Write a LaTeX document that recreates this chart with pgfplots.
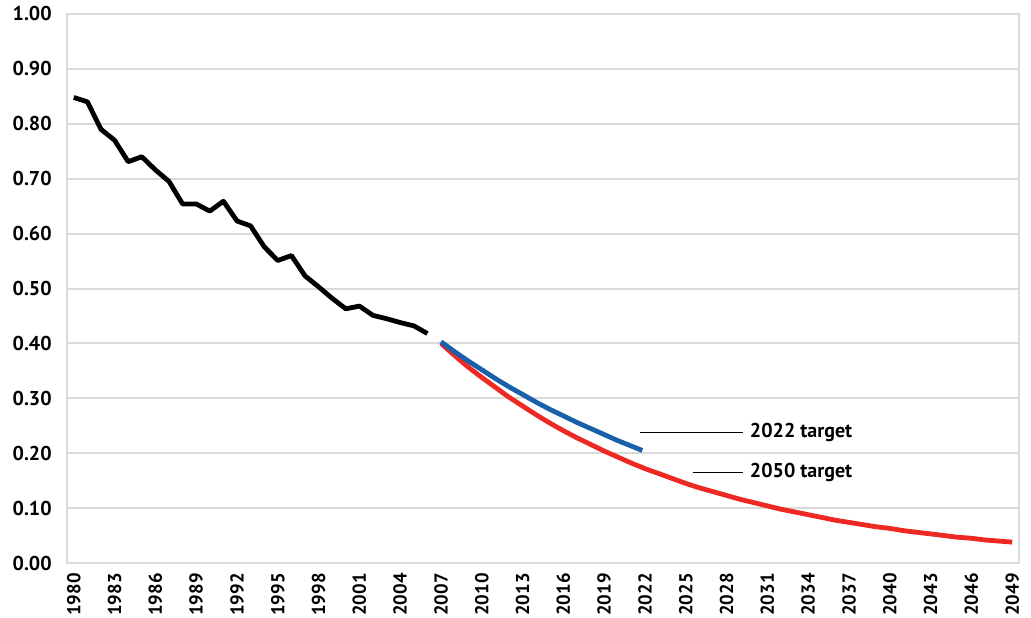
\documentclass[border=0pt]{standalone}
\usepackage{pgfplots}
\pgfplotsset{compat=1.18}
\usepackage{fontspec}
\setmainfont{PT Sans}
\definecolor{gridgray}{RGB}{218,218,218}
\definecolor{lineblue}{RGB}{25,95,170}
\definecolor{linered}{RGB}{238,40,35}
\begin{document}
\begin{tikzpicture}
\begin{axis}[
  scale only axis,
  width=714pt, height=411.75pt,
  xmin=1979.5, xmax=2049.5,
  ymin=0, ymax=1,
  xtick={1980,1983,...,2049},
  ytick={0,0.1,...,1.0},
  ymajorgrids,
  grid style={gridgray, line width=1.5pt},
  axis line style={gridgray, line width=1.5pt},
  major tick length=0pt,
  tick label style={font=\fontsize{15}{17}\selectfont\bfseries},
  /pgf/number format/assume math mode=true,
  xticklabel style={rotate=90, anchor=east, inner sep=1pt, font=\fontsize{14}{16}\selectfont\bfseries, /pgf/number format/1000 sep={}, xshift=-6.5pt},
  yticklabel style={/pgf/number format/fixed, /pgf/number format/precision=2, /pgf/number format/fixed zerofill, xshift=-8pt},
  clip=false,
]
\addplot[black, line width=3.6pt, line join=round] coordinates {
(1980,0.848) (1981,0.840) (1982,0.790) (1983,0.770) (1984,0.731) (1985,0.740)
(1986,0.716) (1987,0.695) (1988,0.654) (1989,0.654) (1990,0.641) (1991,0.659)
(1992,0.623) (1993,0.614) (1994,0.576) (1995,0.551) (1996,0.560) (1997,0.523)
(1998,0.503) (1999,0.482) (2000,0.463) (2001,0.468) (2002,0.451) (2003,0.445)
(2004,0.438) (2005,0.432) (2006,0.418)
};
\addplot[linered, line width=3.6pt, smooth] coordinates {
(2007,0.400) (2008,0.378) (2009,0.357) (2010,0.338) (2011,0.320) (2012,0.302)
(2013,0.286) (2014,0.270) (2015,0.255) (2016,0.241) (2017,0.228) (2018,0.216)
(2019,0.204) (2020,0.193) (2021,0.182) (2022,0.172) (2023,0.163) (2024,0.154)
(2025,0.145) (2026,0.137) (2027,0.130) (2028,0.123) (2029,0.116) (2030,0.110)
(2031,0.104) (2032,0.098) (2033,0.093) (2034,0.088) (2035,0.083) (2036,0.078)
(2037,0.074) (2038,0.070) (2039,0.066) (2040,0.063) (2041,0.059) (2042,0.056)
(2043,0.053) (2044,0.050) (2045,0.047) (2046,0.045) (2047,0.042) (2048,0.040)
(2049,0.038)
};
\addplot[lineblue, line width=3.6pt, smooth] coordinates {
(2007,0.403) (2008,0.385) (2009,0.368) (2010,0.352) (2011,0.336) (2012,0.321)
(2013,0.307) (2014,0.293) (2015,0.280) (2016,0.268) (2017,0.256) (2018,0.245)
(2019,0.234) (2020,0.223) (2021,0.213) (2021.8,0.205)
};
\draw[black, line width=0.6pt] (axis cs:2021.6,0.238) -- (axis cs:2029.2,0.238);
\draw[black, line width=0.6pt] (axis cs:2025.5,0.165) -- (axis cs:2029.2,0.165);
\node[anchor=west, inner sep=0pt, font=\fontsize{15}{17}\selectfont\bfseries] at (axis cs:2029.7,0.238) {2022 target};
\node[anchor=west, inner sep=0pt, font=\fontsize{15}{17}\selectfont\bfseries] at (axis cs:2029.7,0.165) {2050 target};
\end{axis}
\pgfresetboundingbox
\path ([shift={(-50.25pt,-40.5pt)}]current axis.south west) rectangle ([shift={(9pt,10.5pt)}]current axis.north east);
\end{tikzpicture}
\end{document}
